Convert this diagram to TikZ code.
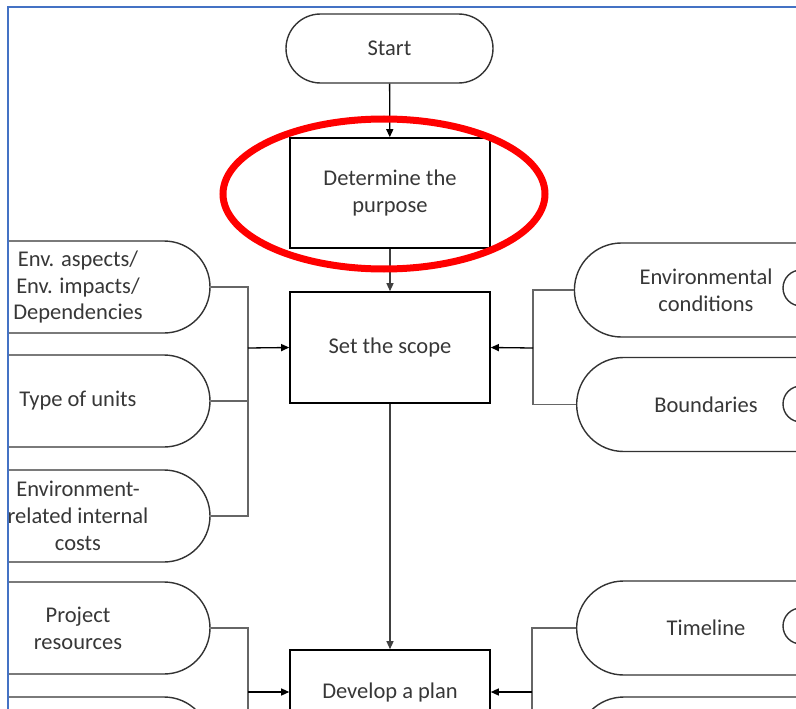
\documentclass[tikz,border=0pt]{standalone}
\usepackage{fontspec}
\setmainfont{Carlito}
\usetikzlibrary{shapes.misc,arrows.meta}
\definecolor{frameblue}{RGB}{68,114,196}
\definecolor{inkgray}{RGB}{55,55,55}
\definecolor{hilite}{RGB}{255,0,0}
\begin{document}
\begin{tikzpicture}[x=1pt,y=-1pt,
  every node/.style={font=\fontsize{22.5}{27}\selectfont, text=inkgray, align=center, inner sep=0pt},
  stepbox/.style={draw=black, line width=1.6pt, minimum width=200pt},
  pill/.style={draw=black!80, line width=1.4pt, rounded rectangle},
  leftpill/.style={draw=black!80, line width=1.4pt, rectangle, rounded corners=46pt, minimum width=264pt, minimum height=92pt},
  rightpill/.style={pill, rounded rectangle right arc=none, minimum width=258pt, minimum height=94pt},
  tag/.style={draw=black!80, line width=1.4pt, circle, minimum size=36pt},
  flow/.style={draw=black, line width=1.3pt, -{Triangle[length=8pt,width=7pt]}},
  branch/.style={draw=black!60, line width=1.5pt},
]
\useasboundingbox (0,0) rectangle (796,709);

\begin{scope}
\clip (9,8) rectangle (796,709);

% main column
\node[pill, minimum width=207pt, minimum height=69pt] (start) at (389.5,48.5) {Start};
\node[stepbox, minimum height=110pt] (purpose) at (390,193) {Determine the\\purpose};
\node[stepbox, minimum height=111pt] (scope) at (390,347.5) {Set the scope};
\node[stepbox, minimum height=84pt] (plan) at (390,692) {Develop a plan};

% inputs on the left
\node[leftpill] (l1) at (78,287) {Env. aspects/\\Env. impacts/\\Dependencies};
\node[leftpill] (l2) at (78,401) {Type of units};
\node[leftpill] (l3) at (78,516) {Environment-\\related internal\\costs};
\node[leftpill] (l4) at (78,628) {Project\\resources};
\node[leftpill] (l5) at (78,743) {};

% inputs on the right
\node[rightpill] (r1) at (706,290) {Environmental\\conditions};
\node[rightpill] (r2) at (706,404.5) {Boundaries};
\node[rightpill] (r3) at (706,628) {Timeline};
\node[rightpill] (r4) at (706,744) {};
\node[tag] (c1) at (801,288) {};
\node[tag] (c2) at (801,404) {};
\node[tag] (c3) at (801,626) {};

% junction points
\coordinate (lj1) at (248,348);
\coordinate (rj1) at (533,348);
\coordinate (lj2) at (248,692);
\coordinate (rj2) at (532,692);

% main flow
\draw[flow] (start) -- (purpose);
\draw[flow, draw=black!75] (purpose) -- (scope);
\draw[flow, draw=black!75] (scope) -- (plan);

% scope inputs
\draw[branch] (l1.east) -| (lj1) |- (l3.east);
\draw[branch] (l2.east) -- (l2.east -| lj1);
\draw[flow] (lj1) -- (scope.west);
\draw[branch] (r1.west) -| (rj1) |- (r2.west);
\draw[flow] (rj1) -- (scope.east);

% plan inputs
\draw[branch] (l4.east) -| (lj2) |- (l5.east);
\draw[flow] (lj2) -- (plan.west);
\draw[branch] (r3.west) -| (rj2) |- (r4.west);
\draw[flow] (rj2) -- (plan.east);
\end{scope}

% highlight around the first step
\draw[hilite, line width=7pt] (384,194) ellipse [x radius=161, y radius=75];

% frame
\draw[frameblue, line width=2pt] (8,709) -- (8,7) -- (796,7);
\end{tikzpicture}
\end{document}
